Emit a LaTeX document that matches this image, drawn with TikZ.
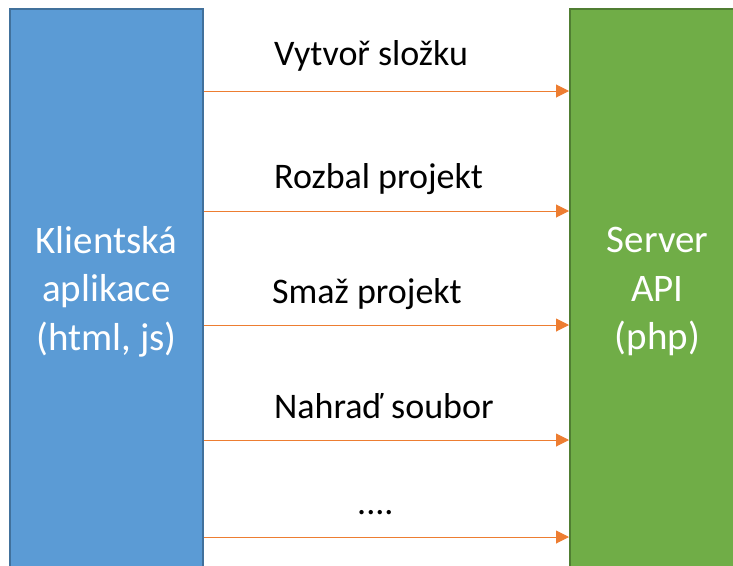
\documentclass[tikz,border=0pt]{standalone}
\usepackage{fontspec}
\setmainfont{Carlito}
\usetikzlibrary{arrows.meta}

\definecolor{klientfill}{RGB}{91,155,213}
\definecolor{klientline}{RGB}{65,113,156}
\definecolor{serverfill}{RGB}{112,173,71}
\definecolor{serverline}{RGB}{80,126,50}
\definecolor{sipka}{RGB}{237,125,49}

\tikzset{
  sloupec/.style={draw, line width=2pt, rectangle, inner sep=0pt, text=white,
    align=center, font=\fontsize{39}{48.5}\selectfont},
  popis/.style={anchor=base west, inner sep=0pt, font=\fontsize{36}{40}\selectfont},
  pozadavek/.style={draw=sipka, line width=1pt, -{Triangle[length=13pt,width=13pt]}}
}

\begin{document}
\begin{tikzpicture}[x=1pt,y=1pt,yscale=-1,xscale=1]
	\useasboundingbox (0,0) rectangle (733,565);
	\clip (0,0) rectangle (733,565);
	
	% Client box
	\node [sloupec, fill=klientfill, draw=klientline, minimum width=193pt, minimum height=566.5pt] (klient) at (106.5,291.75) {Klientská\\aplikace\\(html, js)};
	% Server box
	\node [sloupec, fill=serverfill, draw=serverline, minimum width=175pt, minimum height=566.5pt] (server) at (657.5,291.75) {Server\\API\\(php)};
	
	% Text Node
	\node [popis] (vytvor) at (274,65) {Vytvoř složku};
	% Text Node
	\node [popis] (rozbal) at (274,188) {Rozbal projekt};
	% Text Node
	\node [popis] (smaz) at (272,303) {Smaž projekt};
	% Text Node
	\node [popis] (nahrad) at (274,418) {Nahraď soubor};
	% Text Node
	\node [popis] (dalsi) at (357,514) {....};
	
	% Connection
	\coordinate (a1) at (klient.east |- 0,91);
	\draw [pozadavek] (a1) -- (a1 -| server.west);
	% Connection
	\coordinate (a2) at (klient.east |- 0,211);
	\draw [pozadavek] (a2) -- (a2 -| server.west);
	% Connection
	\coordinate (a3) at (klient.east |- 0,325);
	\draw [pozadavek] (a3) -- (a3 -| server.west);
	% Connection
	\coordinate (a4) at (klient.east |- 0,440);
	\draw [pozadavek] (a4) -- (a4 -| server.west);
	% Connection
	\coordinate (a5) at (klient.east |- 0,537);
	\draw [pozadavek] (a5) -- (a5 -| server.west);
	
\end{tikzpicture}
\end{document}
